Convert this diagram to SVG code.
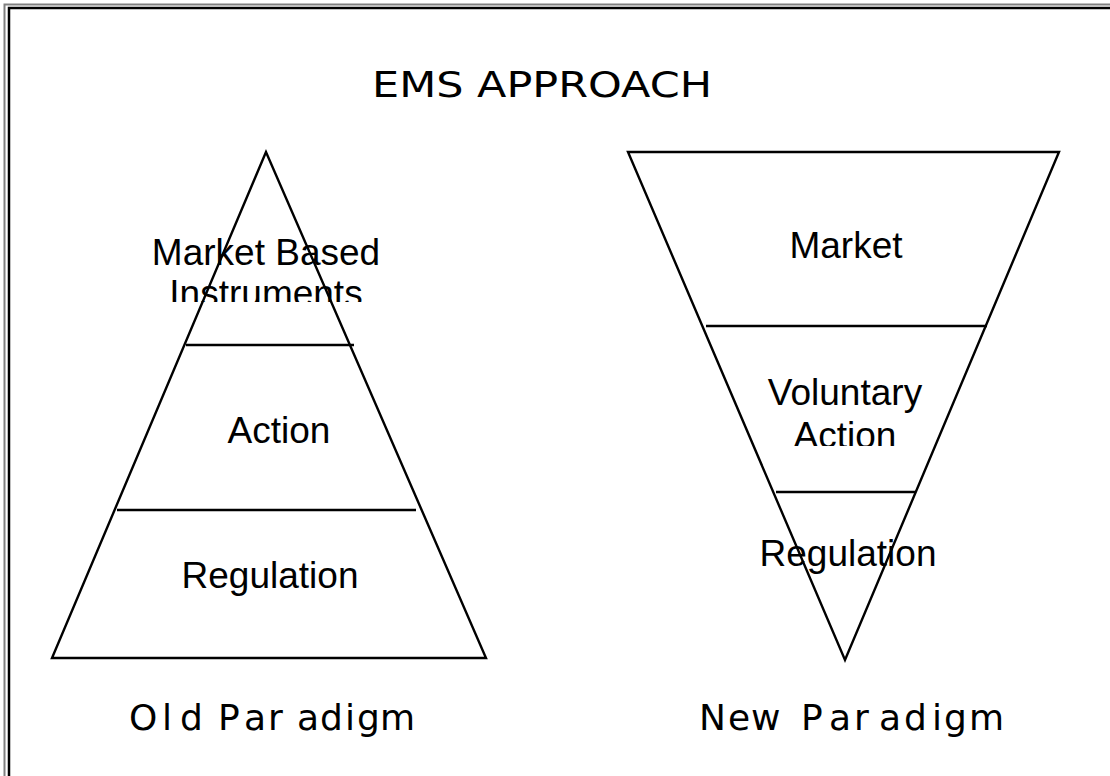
<svg xmlns="http://www.w3.org/2000/svg" width="1110" height="776" viewBox="0 0 1110 776">
  <style>
    .shape { fill: none; stroke: #000; stroke-width: 2.4; }
    .lbl { font-family: "Liberation Sans", Arial, sans-serif; font-size: 37px; fill: #000; }
    .cap { font-family: "DejaVu Sans", Verdana, sans-serif; font-size: 36px; fill: #000; }
    .title { font-family: "DejaVu Sans", Verdana, sans-serif; font-size: 35px; fill: #000; }
  </style>
  <defs>
    <clipPath id="clipInstr"><rect x="100" y="200" width="350" height="102"/></clipPath>
    <clipPath id="clipVolAction"><rect x="700" y="340" width="300" height="106"/></clipPath>
  </defs>
  <rect width="1110" height="776" fill="#fff"/>
  <g id="frame">
    <rect x="4.5" y="4.5" width="1200" height="900" fill="none" stroke="#808080" stroke-width="2"/>
    <rect x="9" y="8" width="1200" height="900" fill="none" stroke="#000" stroke-width="2.5"/>
  </g>
  <g id="title">
    <text class="title" x="372" y="97" textLength="340" lengthAdjust="spacingAndGlyphs">EMS APPROACH</text>
  </g>
  <g id="old-paradigm">
    <polygon class="shape" points="266,152 52,658 486,658"/>
    <line class="shape" x1="186" y1="345" x2="354" y2="345"/>
    <line class="shape" x1="117" y1="510" x2="416" y2="510"/>
    <g clip-path="url(#clipInstr)">
      <text class="lbl" x="266" y="265" text-anchor="middle">Market Based</text>
      <text class="lbl" x="266" y="306" text-anchor="middle">Instruments</text>
    </g>
    <text class="lbl" x="279" y="443" text-anchor="middle">Action</text>
    <text class="lbl" x="270" y="588" text-anchor="middle">Regulation</text>
    <text class="cap" y="730" x="129 162 180 205 218 244 268 297 320 345 357 380">Old Paradigm</text>
  </g>
  <g id="new-paradigm">
    <polygon class="shape" points="628,152 1059,152 845,660"/>
    <line class="shape" x1="706" y1="326" x2="987" y2="326"/>
    <line class="shape" x1="776" y1="492" x2="916" y2="492"/>
    <text class="lbl" x="846" y="258" text-anchor="middle">Market</text>
    <g clip-path="url(#clipVolAction)">
      <text class="lbl" x="845" y="405" text-anchor="middle">Voluntary</text>
      <text class="lbl" x="845" y="448" text-anchor="middle">Action</text>
    </g>
    <text class="lbl" x="848" y="566" text-anchor="middle">Regulation</text>
    <text class="cap" y="730" x="699 728 751 788 801 829 854 879 904 932 944 969">New Paradigm</text>
  </g>
</svg>
